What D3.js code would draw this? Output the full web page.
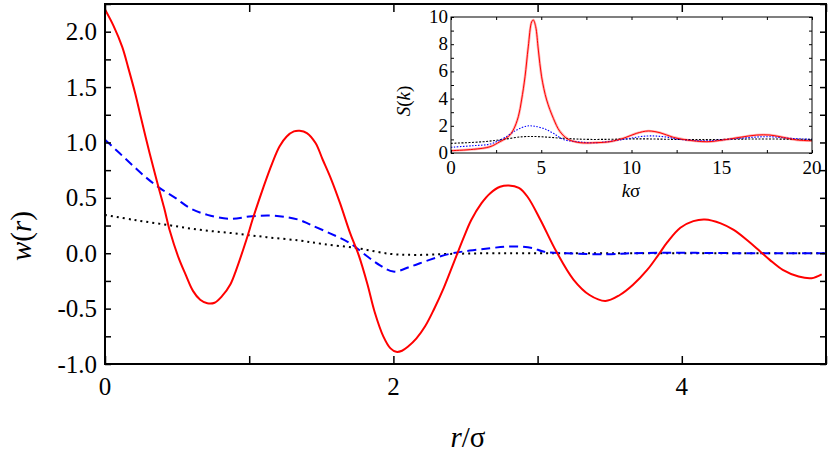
<html>
<head>
<meta charset="utf-8">
<title>w(r) and S(k)</title>
<script src="https://d3js.org/d3.v7.min.js"></script>
<style>
  body { margin: 0; background: #fff; }
</style>
</head>
<body>
<div id="chart"></div>
<script>
// main panel: w(r) vs r/sigma
var rRed = [0, 0.06, 0.12, 0.16, 0.21, 0.25, 0.31, 0.36, 0.41, 0.45, 0.51, 0.56, 0.61, 0.66, 0.71, 0.76, 0.81, 0.87, 0.91, 0.98,
            1.03, 1.10, 1.16, 1.21, 1.26, 1.31, 1.35, 1.40, 1.46, 1.51, 1.57, 1.63, 1.70, 1.76, 1.82, 1.87, 1.93, 1.98, 2.02, 2.06,
            2.10, 2.16, 2.22, 2.28, 2.35, 2.42, 2.49, 2.54, 2.61, 2.67, 2.74, 2.80, 2.87, 2.93, 3.02, 3.13, 3.25, 3.36, 3.47, 3.57,
            3.66, 3.76, 3.84, 3.90, 3.99, 4.08, 4.16, 4.27, 4.36, 4.46, 4.54, 4.61, 4.70, 4.81, 4.90, 4.97];
var wRed = [2.20, 2.05, 1.86, 1.68, 1.44, 1.22, 0.90, 0.65, 0.41, 0.20, -0.04, -0.196, -0.34, -0.42, -0.452, -0.447, -0.39, -0.28, -0.15, 0.12,
            0.331, 0.602, 0.814, 0.964, 1.054, 1.10, 1.106, 1.085, 0.995, 0.844, 0.663, 0.452, 0.181, -0.02, -0.28, -0.53, -0.75, -0.859, -0.89, -0.88,
            -0.845, -0.769, -0.66, -0.51, -0.31, -0.08, 0.15, 0.30, 0.45, 0.54, 0.60, 0.612, 0.59, 0.51, 0.30, 0.015, -0.24, -0.377, -0.431, -0.377,
            -0.287, -0.151, -0.01, 0.10, 0.23, 0.29, 0.305, 0.27, 0.21, 0.11, 0.02, -0.06, -0.15, -0.21, -0.225, -0.19];

var rBlue = [0, 0.10, 0.20, 0.29, 0.38, 0.49, 0.59, 0.71, 0.87, 1.00, 1.14, 1.26, 1.35, 1.42, 1.56, 1.70, 1.82, 1.91, 2.00, 2.12,
             2.25, 2.39, 2.53, 2.67, 2.78, 2.88, 2.97, 3.04, 3.20, 3.48, 3.66, 3.90, 4.20, 4.50, 4.80, 5.00];
var wBlue = [1.025, 0.904, 0.783, 0.678, 0.588, 0.497, 0.407, 0.346, 0.31, 0.331, 0.34, 0.325, 0.30, 0.26, 0.18, 0.09, -0.03, -0.112, -0.166, -0.12,
             -0.06, -0.006, 0.024, 0.045, 0.06, 0.06, 0.045, 0.015, 0.0, -0.01, 0.0, 0.005, 0.002, 0.0, 0.0, 0.0];

var rBlack = [0, 0.20, 0.43, 0.66, 0.89, 1.12, 1.35, 1.51, 1.75, 1.98, 2.16, 2.39, 2.67, 3.00, 5.00];
var wBlack = [0.346, 0.301, 0.256, 0.211, 0.18, 0.145, 0.114, 0.084, 0.045, -0.006, -0.015, -0.006, 0.0, 0.0, 0.0];

var xTickLabels = [0, 2, 4];
var yTickLabels = ["2.0", "1.5", "1.0", "0.5", "0.0", "-0.5", "-1.0"];

// inset: S(k) vs k sigma
var kRed = [0, 1.24, 2.16, 2.71, 3.17, 3.45, 3.73, 3.91, 4.10, 4.28, 4.47, 4.56, 4.69, 4.84, 5.02, 5.30, 5.67, 6.04, 6.50, 7.15,
            8.07, 8.80, 9.55, 10.29, 10.93, 11.58, 12.32, 13.06, 14.17, 15.09, 16.00, 16.94, 17.67, 18.41, 19.15, 20.0];
var sRed = [0.17, 0.27, 0.46, 0.83, 1.2, 1.69, 2.67, 3.9, 5.6, 7.8, 9.65, 9.78, 9.3, 7.57, 5.6, 3.9, 2.55, 1.57, 1.0, 0.76,
            0.76, 0.83, 1.08, 1.45, 1.62, 1.49, 1.15, 0.96, 0.83, 0.96, 1.15, 1.32, 1.32, 1.15, 0.96, 0.9];

var kBlue = [0, 1.24, 2.16, 2.90, 3.64, 4.19, 4.56, 5.11, 5.67, 6.22, 6.96, 8.07, 9.55, 10.84, 11.76, 12.69, 14.17, 16.0, 17.5, 18.8, 20.0];
var sBlue = [0.42, 0.54, 0.66, 1.08, 1.69, 1.98, 1.98, 1.81, 1.45, 1.0, 0.83, 0.76, 1.0, 1.25, 1.2, 1.0, 0.9, 1.08, 1.2, 1.08, 1.0];

var kBlack = [0, 1.8, 2.9, 4.0, 4.93, 6.22, 7.7, 10.5, 13.5, 17.0, 20.0];
var sBlack = [0.71, 0.83, 1.0, 1.2, 1.2, 1.08, 1.0, 1.04, 0.98, 1.03, 1.0];

var insetXLabels = [0, 5, 10, 15, 20];
var insetYLabels = [0, 2, 4, 6, 8, 10];

var W = 830, H = 455;
var FONT = "'Liberation Serif', 'DejaVu Serif', 'Noto Serif', 'Times New Roman', serif";
var svg = d3.select("#chart").append("svg").attr("width", W).attr("height", H)
  .style("font-family", FONT);

function zip(a, b) { return a.map(function (d, i) { return [d, b[i]]; }); }

// ---------- main panel ----------
var x = d3.scaleLinear().domain([0, 5]).range([105, 826]);
var y = d3.scaleLinear().domain([-1, 2.25]).range([364, 4]);

var line = d3.line().x(function (d) { return x(d[0]); }).y(function (d) { return y(d[1]); }).curve(d3.curveCatmullRom.alpha(0.5));

var plot = svg.append("g");
plot.append("defs").append("clipPath").attr("id", "clipMain")
  .append("rect").attr("x", 105).attr("y", 4).attr("width", 721).attr("height", 360);
var lines = plot.append("g").attr("clip-path", "url(#clipMain)");

lines.append("path").datum(zip(rBlack, wBlack)).attr("d", line)
  .attr("fill", "none").attr("stroke", "#000").attr("stroke-width", 2).attr("stroke-dasharray", "2,4");
lines.append("path").datum(zip(rBlue, wBlue)).attr("d", line)
  .attr("fill", "none").attr("stroke", "#0000ff").attr("stroke-width", 2).attr("stroke-dasharray", "9,5");
lines.append("path").datum(zip(rRed, wRed)).attr("d", line)
  .attr("fill", "none").attr("stroke", "#ff0000").attr("stroke-width", 2);

// axes (inward ticks on all four sides)
var yTicks = d3.range(-1, 2.26, 0.25);
var xTicks = d3.range(0, 5.01, 1);

function clean(g) { g.select(".domain").remove(); g.selectAll("line").attr("stroke-width", 1.5); }
svg.append("g").attr("transform", "translate(105,0)")
  .call(d3.axisRight(y).tickValues(yTicks).tickSize(6).tickFormat("")).call(clean);
svg.append("g").attr("transform", "translate(826,0)")
  .call(d3.axisLeft(y).tickValues(yTicks).tickSize(6).tickFormat("")).call(clean);
svg.append("g").attr("transform", "translate(0,364)")
  .call(d3.axisTop(x).tickValues(xTicks).tickSize(8).tickFormat("")).call(clean);
svg.append("g").attr("transform", "translate(0,4)")
  .call(d3.axisBottom(x).tickValues(xTicks).tickSize(8).tickFormat("")).call(clean);

svg.append("rect").attr("x", 105).attr("y", 4).attr("width", 721).attr("height", 360)
  .attr("fill", "none").attr("stroke", "#000").attr("stroke-width", 2);

svg.append("g").selectAll("text").data(yTickLabels).join("text")
  .attr("x", 97).attr("y", function (d) { return y(+d) + 8.5; })
  .attr("text-anchor", "end").attr("font-size", 25).text(function (d) { return d; });
svg.append("g").selectAll("text").data(xTickLabels).join("text")
  .attr("x", function (d) { return x(d); }).attr("y", 395)
  .attr("text-anchor", "middle").attr("font-size", 25).text(function (d) { return d; });

// axis titles
var xt = svg.append("text").attr("x", 468).attr("y", 447).attr("text-anchor", "middle").attr("font-size", 29);
xt.append("tspan").attr("font-style", "italic").text("r");
xt.append("tspan").text("/σ");

var yt = svg.append("text").attr("transform", "translate(31,236) rotate(-90)")
  .attr("text-anchor", "middle").attr("font-size", 29);
yt.append("tspan").attr("font-style", "italic").text("w");
yt.append("tspan").text("(");
yt.append("tspan").attr("font-style", "italic").text("r");
yt.append("tspan").text(")");

// ---------- inset ----------
var ix = d3.scaleLinear().domain([0, 20]).range([451, 812]);
var iy = d3.scaleLinear().domain([0, 10]).range([153, 17]);
var iline = d3.line().x(function (d) { return ix(d[0]); }).y(function (d) { return iy(d[1]); }).curve(d3.curveCatmullRom.alpha(0.5));

var inset = svg.append("g");
inset.append("rect").attr("x", 451).attr("y", 17).attr("width", 361).attr("height", 136).attr("fill", "#fff");

inset.append("path").datum(zip(kRed, sRed)).attr("d", iline)
  .attr("fill", "none").attr("stroke", "#ffb0b0").attr("stroke-width", 2.6);
inset.append("path").datum(zip(kBlack, sBlack)).attr("d", iline)
  .attr("fill", "none").attr("stroke", "#000").attr("stroke-width", 1.1).attr("stroke-dasharray", "2,1.5");
inset.append("path").datum(zip(kBlue, sBlue)).attr("d", iline)
  .attr("fill", "none").attr("stroke", "#0000ff").attr("stroke-width", 1.1).attr("stroke-dasharray", "1.5,1.5");
inset.append("path").datum(zip(kRed, sRed)).attr("d", iline)
  .attr("fill", "none").attr("stroke", "#ff0000").attr("stroke-width", 1);

var iyTicks = d3.range(0, 10.01, 1);
var ixTicks = d3.range(0, 20.01, 2.5);
function cleanThin(g) { g.select(".domain").remove(); }
inset.append("g").attr("transform", "translate(451,0)")
  .call(d3.axisRight(iy).tickValues(iyTicks).tickSize(3).tickFormat("")).call(cleanThin);
inset.append("g").attr("transform", "translate(812,0)")
  .call(d3.axisLeft(iy).tickValues(iyTicks).tickSize(3).tickFormat("")).call(cleanThin);
inset.append("g").attr("transform", "translate(0,153)")
  .call(d3.axisTop(ix).tickValues(ixTicks).tickSize(3).tickFormat("")).call(cleanThin);
inset.append("g").attr("transform", "translate(0,17)")
  .call(d3.axisBottom(ix).tickValues(ixTicks).tickSize(3).tickFormat("")).call(cleanThin);

inset.append("rect").attr("x", 451).attr("y", 17).attr("width", 361).attr("height", 136)
  .attr("fill", "none").attr("stroke", "#000").attr("stroke-width", 1);

inset.append("g").selectAll("text").data(insetYLabels).join("text")
  .attr("x", 448).attr("y", function (d) { return iy(d) + 6; })
  .attr("text-anchor", "end").attr("font-size", 19).text(function (d) { return d; });
inset.append("g").selectAll("text").data(insetXLabels).join("text")
  .attr("x", function (d) { return ix(d); }).attr("y", 174)
  .attr("text-anchor", "middle").attr("font-size", 19).text(function (d) { return d; });

var ixt = inset.append("text").attr("x", 631).attr("y", 197).attr("text-anchor", "middle").attr("font-size", 19);
ixt.append("tspan").attr("font-style", "italic").text("k");
ixt.append("tspan").text("σ");

var iyt = inset.append("text").attr("transform", "translate(410,101) rotate(-90)")
  .attr("text-anchor", "middle").attr("font-size", 19);
iyt.append("tspan").attr("font-style", "italic").text("S");
iyt.append("tspan").text("(");
iyt.append("tspan").attr("font-style", "italic").text("k");
iyt.append("tspan").text(")");
</script>
</body>
</html>
